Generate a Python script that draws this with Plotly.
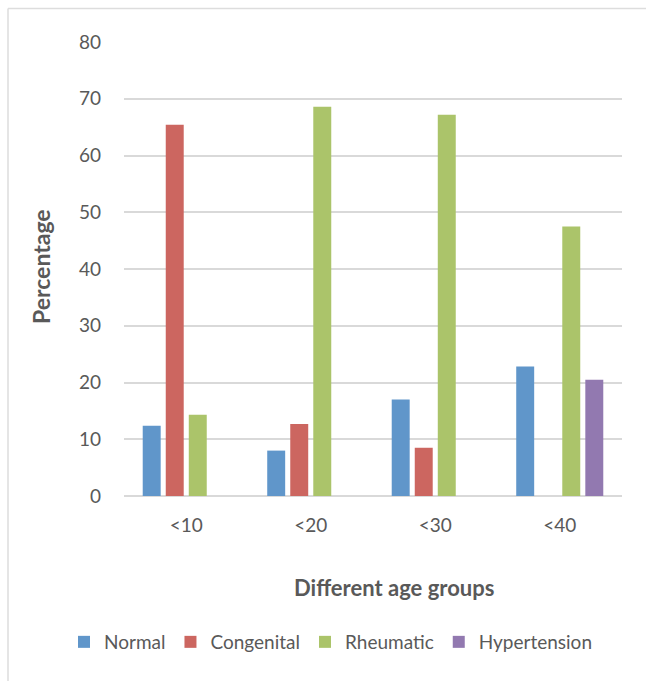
import plotly.graph_objects as go

# Share of cardiac findings by age group (%)
age_groups = ["<10", "<20", "<30", "<40"]
normal = [12.4, 8.0, 17.0, 22.8]
congenital = [65.4, 12.7, 8.5, 0]
rheumatic = [14.3, 68.6, 67.2, 47.5]
hypertension = [0, 0, 0, 20.5]

series = [
    ("Normal", normal, "#6096CA"),
    ("Congenital", congenital, "#CC6660"),
    ("Rheumatic", rheumatic, "#ABC46A"),
    ("Hypertension", hypertension, "#9279B0"),
]

W, H = 646, 681
L, R, T, B = 124, 24, 42, 185
pw, ph = W - L - R, H - T - B

def px_x(p):
    return (p - L) / pw

def px_y(p):
    return (H - B - p) / ph

TEXT = "#595959"
FONT = "Lato"

fig = go.Figure()
for name, vals, color in series:
    fig.add_trace(go.Bar(
        x=age_groups, y=vals, name=name,
        marker=dict(color=color, line=dict(width=0)),
    ))

fig.update_layout(
    width=W, height=H,
    margin=dict(l=L, r=R, t=T, b=B),
    paper_bgcolor="white", plot_bgcolor="white",
    barmode="group", bargap=0.26, bargroupgap=0.22,
    font=dict(family=FONT, color=TEXT, size=19),
    showlegend=True,
    legend=dict(
        orientation="h", x=px_x(64), xanchor="left",
        y=px_y(642), yanchor="middle",
        font=dict(size=19, color=TEXT, family=FONT),
        bgcolor="rgba(0,0,0,0)", traceorder="normal",
    ),
    xaxis=dict(
        showgrid=False, showline=False, ticks="",
        tickfont=dict(size=19, color=TEXT), ticklabelstandoff=16,
    ),
    yaxis=dict(
        range=[0, 80], dtick=10, showgrid=True, gridcolor="#D9D9D9",
        gridwidth=1.5, zeroline=True, zerolinecolor="#D9D9D9",
        zerolinewidth=1.5, showline=False, ticks="",
        tickfont=dict(size=19, color=TEXT), ticklabelstandoff=22,
    ),
    annotations=[
        dict(text="<b>Different age groups</b>", x=px_x(394), y=px_y(587),
             xref="paper", yref="paper", showarrow=False,
             xanchor="center", yanchor="middle",
             font=dict(size=22, color=TEXT, family=FONT)),
        dict(text="<b>Percentage</b>", x=px_x(41), y=px_y(267),
             xref="paper", yref="paper", showarrow=False, textangle=-90,
             xanchor="center", yanchor="middle",
             font=dict(size=23, color=TEXT, family=FONT)),
    ],
    shapes=[
        dict(type="line", xref="paper", yref="paper",
             x0=px_x(8), x1=px_x(W + 2), y0=px_y(8.5), y1=px_y(8.5),
             line=dict(color="#DDDDDD", width=1.5)),
        dict(type="line", xref="paper", yref="paper",
             x0=px_x(8), x1=px_x(8), y0=px_y(8.5), y1=px_y(H + 2),
             line=dict(color="#DDDDDD", width=1.5)),
    ],
)

fig.write_html("out.html")
